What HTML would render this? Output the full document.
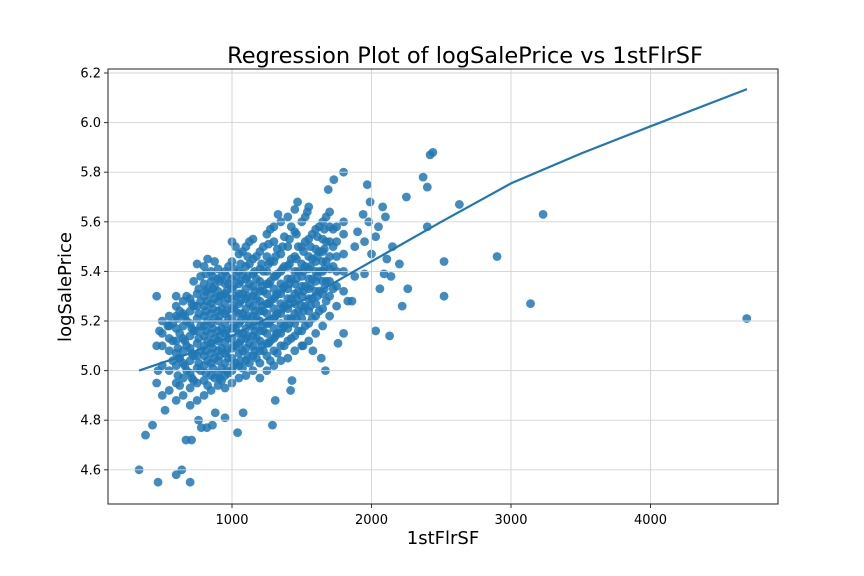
<!DOCTYPE html>
<html><head><meta charset="utf-8"><style>
body{margin:0;background:#fff}
svg{display:block;font-family:"DejaVu Sans","Liberation Sans",sans-serif}
</style></head><body>
<svg id="chart" width="864" height="576">
<rect x="0" y="0" width="864" height="576" fill="#fff"/>
<text x="465" y="63" text-anchor="middle" font-size="22.5" fill="#000">Regression Plot of logSalePrice vs 1stFlrSF</text>
<g id="pts"></g>
<g id="grid"></g>
<path id="fit" fill="none" stroke="#1f77b4" stroke-width="2.2"/>
<g id="axes"></g>
<text x="443" y="544" text-anchor="middle" font-size="18">1stFlrSF</text>
<text x="0" y="0" transform="translate(71,287) rotate(-90)" text-anchor="middle" font-size="18">logSalePrice</text>
</svg>
<script>
const xTicks=[1000,2000,3000,4000];
const yTicks=[4.6,4.8,5.0,5.2,5.4,5.6,5.8,6.0,6.2];
const fitX=[334,700,1000,1500,2000,2500,3000,3500,4000,4692];
const fitY=[5.0,5.07,5.14,5.28,5.44,5.60,5.755,5.875,5.985,6.135];
const outliers=[[334,4.60],[380,4.74],[430,4.78],[470,4.55],[520,4.84],[600,4.58],[640,4.60],[670,4.72],[700,4.55],[710,4.72],[760,4.80],[780,4.77],[820,4.77],[860,4.78],[880,4.83],[950,4.81],[1040,4.75],[1080,4.83],[1290,4.78],[1310,4.88],[1420,4.92],[1430,4.96],[1670,5.0],[2030,5.16],[2130,5.14],[2220,5.26],[2520,5.30],[2520,5.44],[2900,5.46],[3140,5.27],[3230,5.63],[4690,5.21],[2630,5.67],[2420,5.87],[2440,5.88],[2400,5.74],[2370,5.78],[2400,5.58],[2250,5.70],[1800,5.80],[1730,5.77],[1690,5.73],[1970,5.75],[2080,5.66],[2100,5.62],[2110,5.45],[2090,5.39],[2140,5.38],[2200,5.43],[2260,5.33],[2060,5.33],[1950,5.39],[1980,5.60],[2050,5.58],[1880,5.50],[1800,5.60],[1830,5.28],[1860,5.28],[1880,5.38],[1800,5.15],[1760,5.11],[1640,5.05],[1580,5.08],[1510,5.10],[460,5.30],[480,5.16],[460,5.10],[470,5.00],[460,4.95],[540,5.18],[600,5.30],[620,5.05],[1330,5.63],[1470,5.68],[1540,5.64],[1900,5.56],[1950,5.52],[2000,5.47],[2150,5.50],[1940,5.63],[1990,5.68],[2030,5.54]];
const colX=[500,550,600,650,700,750,800,850,900,950,1000,1050,1100,1150,1200,1250,1300,1350,1400,1450,1500,1550,1600,1650,1700,1750,1800];
const colY=[[4.90,5.02,5.10,5.15,5.20],[4.92,5.00,5.08,5.13,5.18,5.22],[4.88,4.95,5.02,5.07,5.12,5.17,5.22,5.26],[4.90,4.97,5.03,5.08,5.13,5.18,5.23,5.28],[4.86,4.93,4.99,5.04,5.09,5.14,5.19,5.24,5.29],[4.88,4.95,5.01,5.06,5.11,5.16,5.21,5.26,5.31,5.43],[4.90,4.96,5.02,5.06,5.10,5.14,5.18,5.22,5.26,5.30,5.35,5.42],[4.92,4.98,5.03,5.07,5.11,5.15,5.19,5.23,5.27,5.31,5.36,5.40],[4.94,4.99,5.04,5.08,5.12,5.16,5.20,5.24,5.28,5.32,5.37,5.41],[4.93,4.98,5.03,5.07,5.11,5.15,5.19,5.23,5.27,5.31,5.35,5.40],[4.95,5.00,5.05,5.09,5.13,5.17,5.21,5.25,5.29,5.33,5.37,5.44,5.52],[4.97,5.02,5.07,5.11,5.15,5.19,5.23,5.27,5.31,5.35,5.40,5.47],[4.98,5.04,5.09,5.13,5.17,5.21,5.25,5.29,5.33,5.37,5.42,5.50],[5.00,5.06,5.10,5.14,5.18,5.22,5.26,5.30,5.34,5.39,5.45,5.53],[4.97,5.03,5.08,5.12,5.16,5.20,5.24,5.28,5.32,5.36,5.41,5.48],[5.00,5.06,5.11,5.15,5.19,5.23,5.27,5.31,5.35,5.40,5.46,5.55],[5.02,5.08,5.13,5.17,5.21,5.25,5.29,5.33,5.38,5.44,5.52,5.58],[5.04,5.10,5.15,5.19,5.23,5.27,5.31,5.35,5.40,5.47,5.60],[5.05,5.12,5.17,5.21,5.25,5.29,5.33,5.37,5.42,5.50,5.62],[5.08,5.14,5.19,5.23,5.27,5.31,5.35,5.40,5.46,5.56,5.65],[5.10,5.16,5.21,5.26,5.30,5.34,5.38,5.43,5.50,5.60],[5.12,5.19,5.24,5.29,5.33,5.37,5.41,5.46,5.53,5.66],[5.15,5.22,5.27,5.32,5.36,5.40,5.44,5.49,5.57],[5.18,5.25,5.31,5.36,5.40,5.44,5.48,5.53,5.60],[5.22,5.30,5.36,5.41,5.46,5.52,5.58,5.64],[5.26,5.34,5.40,5.46,5.52,5.58],[5.32,5.40,5.47,5.55]];
const colX2=[575,625,675,725,775,825,875,925,975,1025,1075,1125,1175,1225,1275,1325,1375,1425,1475,1525,1575,1625,1675,1725];
const colY2=[[5.04,5.12,5.19],[4.94,5.05,5.15,5.24],[5.00,5.10,5.20,5.30],[4.96,5.06,5.16,5.26,5.36],[5.00,5.08,5.18,5.28,5.38],[4.94,5.04,5.12,5.20,5.28,5.33,5.45],[4.97,5.05,5.13,5.21,5.29,5.34,5.44],[4.96,5.01,5.09,5.17,5.25,5.30,5.38],[4.99,5.05,5.13,5.21,5.29,5.35,5.42],[5.03,5.10,5.17,5.24,5.30,5.38,5.50],[5.01,5.08,5.15,5.23,5.31,5.39,5.48],[5.03,5.11,5.19,5.27,5.35,5.43,5.52],[5.05,5.13,5.21,5.29,5.37,5.46],[5.08,5.16,5.24,5.32,5.40,5.50],[5.04,5.12,5.20,5.28,5.36,5.44,5.57],[5.07,5.15,5.23,5.31,5.39,5.49],[5.10,5.18,5.26,5.34,5.42,5.54],[5.13,5.21,5.29,5.37,5.45,5.58],[5.16,5.24,5.32,5.40,5.50],[5.18,5.26,5.34,5.42,5.52,5.62],[5.21,5.29,5.37,5.45,5.55],[5.24,5.32,5.40,5.48,5.58],[5.28,5.36,5.44,5.52,5.62],[5.33,5.42,5.50,5.57]];
const colX3=[612,662,712,762,812,862,912,962,1012,1062,1112,1162,1212,1262,1312,1362,1412,1462,1512,1562,1612,1662];
const colY3=[[4.98,5.09,5.21],[5.02,5.12,5.22],[4.97,5.07,5.17,5.27],[5.03,5.13,5.23,5.33],[4.99,5.08,5.16,5.24,5.32,5.39],[5.01,5.09,5.17,5.25,5.33,5.38],[4.97,5.06,5.14,5.22,5.30,5.36],[5.00,5.08,5.16,5.24,5.32,5.38],[5.02,5.10,5.18,5.26,5.34,5.41],[5.04,5.12,5.20,5.28,5.36,5.43],[5.06,5.14,5.22,5.30,5.38,5.46],[5.08,5.16,5.24,5.32,5.40],[5.10,5.18,5.26,5.34,5.43],[5.11,5.19,5.27,5.35,5.43,5.51],[5.14,5.22,5.30,5.38,5.46],[5.17,5.25,5.33,5.41,5.50],[5.19,5.27,5.35,5.43,5.53],[5.21,5.29,5.37,5.45,5.55],[5.24,5.32,5.40,5.48],[5.26,5.34,5.42,5.50],[5.30,5.38,5.46,5.54],[5.33,5.41,5.49,5.57]];

const L=108,R=778,T=69,B=504;
const xs=v=>92.5+v*0.1395;
const ys=v=>73+(6.2-v)*248;
const NS='http://www.w3.org/2000/svg';
function mk(tag,parent,attrs){const e=document.createElementNS(NS,tag);for(const k in attrs)e.setAttribute(k,attrs[k]);parent.appendChild(e);return e;}
const pts=document.getElementById('pts');
function dot(x,y){const c=mk('circle',pts,{cx:xs(x),cy:ys(y),r:4.4,fill:'#1f77b4','fill-opacity':0.85});

}
colX.forEach((x,i)=>colY[i].forEach(y=>dot(x,y)));
colX2.forEach((x,i)=>colY2[i].forEach(y=>dot(x,y)));
colX3.forEach((x,i)=>colY3[i].forEach(y=>dot(x,y)));
outliers.forEach(p=>dot(p[0],p[1]));
const grid=document.getElementById('grid'),axes=document.getElementById('axes');
xTicks.forEach(t=>{const x=xs(t);
const g=mk('line',grid,{x1:x,x2:x,y1:T,y2:B,stroke:'#d3d3d3','stroke-width':0.9});


mk('line',axes,{x1:x,x2:x,y1:B,y2:B+4,stroke:'#333'});
const tx=mk('text',axes,{x:x,y:B+20,'text-anchor':'middle','font-size':13});tx.textContent=t;

});
yTicks.forEach(t=>{const y=ys(t);
const g=mk('line',grid,{x1:L,x2:R,y1:y,y2:y,stroke:'#d3d3d3','stroke-width':0.9});


mk('line',axes,{x1:L-4,x2:L,y1:y,y2:y,stroke:'#333'});
const tx=mk('text',axes,{x:L-7,y:y+4.5,'text-anchor':'end','font-size':13});tx.textContent=t.toFixed(1);

});
const fr=mk('rect',axes,{x:L,y:T,width:R-L,height:B-T,fill:'none',stroke:'#222','stroke-width':1});


document.getElementById('fit').setAttribute('d',fitX.map((x,i)=>(i?'L':'M')+xs(x)+','+ys(fitY[i])).join(' '));
</script>
</body></html>
